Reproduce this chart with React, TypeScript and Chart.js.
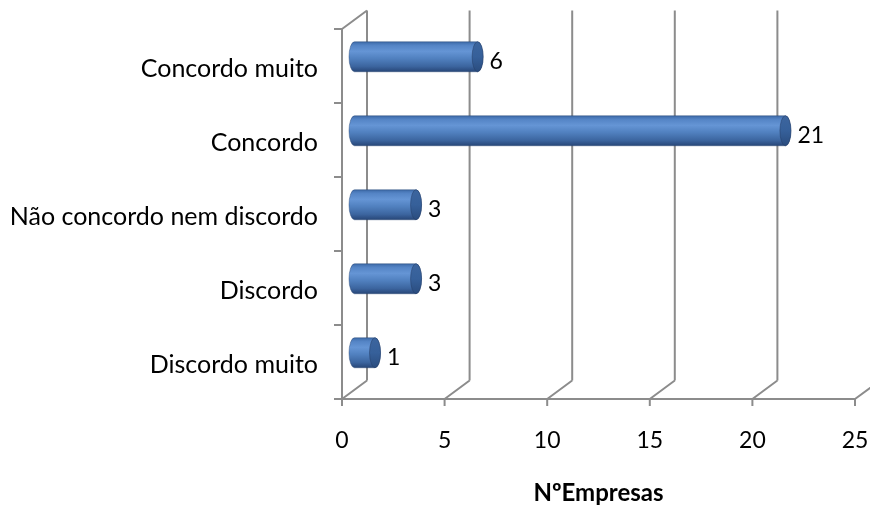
import React, { useEffect, useRef } from "react";
import { Chart, registerables } from "chart.js";

Chart.register(...registerables);

// Survey answers and number of companies per answer
const categories = [
  "Concordo muito",
  "Concordo",
  "Não concordo nem discordo",
  "Discordo",
  "Discordo muito",
];
const empresas = [6, 21, 3, 3, 1];
const axisTitle = "NºEmpresas";
const xMin = 0;
const xMax = 25;
const xStep = 5;

// Pseudo-3D depth offset of the back wall relative to the front plane
const DX = 25;
const DY = -18.5;
const GRID = "#8C8C8C";
const FONT = "Lato";

const wallPlugin = {
  id: "wall3d",
  beforeDatasetsDraw(chart: any) {
    const { ctx, chartArea: a, scales } = chart;
    const xs = scales.x;
    const ys = scales.y;
    ctx.save();
    ctx.strokeStyle = GRID;
    ctx.lineWidth = 2;
    ctx.beginPath();
    xs.ticks.forEach((t: any) => {
      const px = xs.getPixelForValue(t.value);
      // back wall gridline
      ctx.moveTo(px + DX, a.top + DY);
      ctx.lineTo(px + DX, a.bottom + DY);
      // floor line
      ctx.moveTo(px, a.bottom);
      ctx.lineTo(px + DX, a.bottom + DY);
      // tick mark
      ctx.moveTo(px, a.bottom);
      ctx.lineTo(px, a.bottom + 7);
    });
    // front value axis
    ctx.moveTo(a.left - 8, a.bottom);
    ctx.lineTo(a.right, a.bottom);
    // side wall front edge and top edge
    ctx.moveTo(a.left, a.top);
    ctx.lineTo(a.left, a.bottom);
    ctx.moveTo(a.left, a.top);
    ctx.lineTo(a.left + DX, a.top + DY);
    // category separators
    const n = ys.ticks.length;
    for (let i = 0; i <= n; i++) {
      const py = ys.getPixelForValue(i - 0.5);
      ctx.moveTo(a.left - 8, py);
      ctx.lineTo(a.left, py);
    }
    ctx.stroke();
    ctx.restore();
  },
};

const cylinderPlugin = {
  id: "cylinders",
  afterDatasetsDraw(chart: any) {
    const { ctx } = chart;
    const meta = chart.getDatasetMeta(0);
    const values = chart.data.datasets[0].data as number[];
    meta.data.forEach((bar: any, i: number) => {
      const { x, y, base, height } = bar.getProps(["x", "y", "base", "height"], true);
      const x0 = base + DX / 2;
      const x1 = x + DX / 2;
      const cy = y + DY / 2;
      const r = height / 2;
      const rx = 5.5;

      ctx.save();
      // cylinder body
      const g = ctx.createLinearGradient(0, cy - r, 0, cy + r);
      g.addColorStop(0, "#3D6AA8");
      g.addColorStop(0.12, "#5484C5");
      g.addColorStop(0.32, "#6595D5");
      g.addColorStop(0.55, "#5181C0");
      g.addColorStop(0.82, "#3C659F");
      g.addColorStop(1, "#274677");
      ctx.beginPath();
      ctx.moveTo(x1, cy - r);
      ctx.lineTo(x0, cy - r);
      ctx.ellipse(x0, cy, rx, r, 0, -Math.PI / 2, Math.PI / 2, true);
      ctx.lineTo(x1, cy + r);
      ctx.ellipse(x1, cy, rx, r, 0, Math.PI / 2, -Math.PI / 2, true);
      ctx.closePath();
      ctx.fillStyle = g;
      ctx.fill();
      ctx.strokeStyle = "rgba(40,70,115,0.55)";
      ctx.lineWidth = 0.8;
      ctx.stroke();

      // end face
      const c = ctx.createLinearGradient(0, cy - r, 0, cy + r);
      c.addColorStop(0, "#3C659E");
      c.addColorStop(0.5, "#36609A");
      c.addColorStop(1, "#2A4C7E");
      ctx.beginPath();
      ctx.ellipse(x1, cy, rx, r, 0, 0, Math.PI * 2);
      ctx.fillStyle = c;
      ctx.fill();
      ctx.strokeStyle = "rgba(35,60,100,0.6)";
      ctx.stroke();

      // value label
      ctx.fillStyle = "#000";
      ctx.font = `23px ${FONT}`;
      ctx.textAlign = "left";
      ctx.textBaseline = "middle";
      ctx.fillText(String(values[i]), x1 + 12, cy + 5);
      ctx.restore();
    });
  },
};

function noScalePadding(scale: any) {
  scale.paddingLeft = 0;
  scale.paddingRight = 0;
  scale.paddingTop = 0;
  scale.paddingBottom = 0;
}

export default function App() {
  const canvasRef = useRef<HTMLCanvasElement | null>(null);

  useEffect(() => {
    if (!canvasRef.current) return;
    const chart = new Chart(canvasRef.current, {
      type: "bar",
      data: {
        labels: categories,
        datasets: [
          {
            data: empresas,
            backgroundColor: "rgba(0,0,0,0)",
            borderWidth: 0,
            barThickness: 30,
          },
        ],
      },
      options: {
        indexAxis: "y",
        animation: false,
        responsive: true,
        maintainAspectRatio: false,
        events: [],
        layout: { padding: { top: 29, right: 15, left: 0, bottom: 0 } },
        plugins: {
          legend: { display: false },
          tooltip: { enabled: false },
        },
        scales: {
          x: {
            min: xMin,
            max: xMax,
            grid: { display: false, drawTicks: false },
            border: { display: false },
            ticks: {
              stepSize: xStep,
              padding: 28,
              color: "#000",
              font: { family: FONT, size: 23 },
            },
            title: {
              display: true,
              text: axisTitle,
              color: "#000",
              font: { family: FONT, size: 24, weight: "bold" },
              padding: { top: 0, bottom: 0 },
            },
            afterFit(scale: any) {
              scale.height = 109;
              noScalePadding(scale);
            },
          },
          y: {
            grid: { display: false, drawTicks: false },
            border: { display: false },
            ticks: {
              padding: 24,
              labelOffset: 3,
              color: "#000",
              font: { family: FONT, size: 25 },
            },
            afterFit(scale: any) {
              scale.width = 342;
              noScalePadding(scale);
            },
          },
        },
      },
      plugins: [wallPlugin, cylinderPlugin],
    });
    return () => chart.destroy();
  }, []);

  return (
    <div style={{ position: "absolute", left: 0, top: 0, width: 870, height: 508, background: "#fff" }}>
      <canvas ref={canvasRef} />
    </div>
  );
}
